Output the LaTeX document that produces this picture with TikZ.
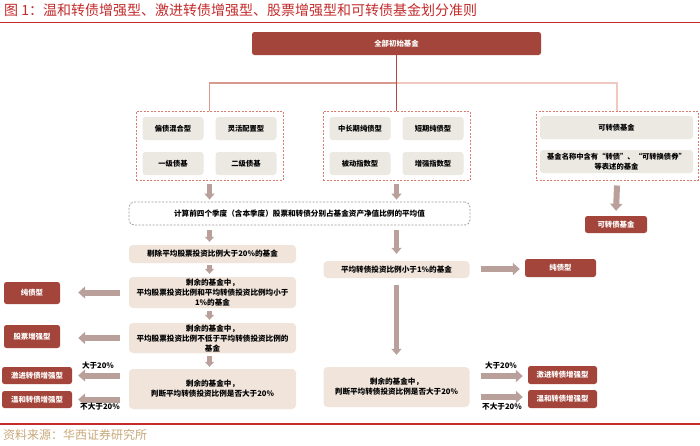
\documentclass[tikz,border=0pt]{standalone}
\usepackage{fontspec}
\setmainfont{Noto Sans CJK SC}
\usetikzlibrary{arrows.meta,calc}
\definecolor{dred}{HTML}{A3453A}
\definecolor{greyc}{HTML}{ECE9E3}
\definecolor{beige}{HTML}{F0E4DB}
\definecolor{salmon}{HTML}{DA7D70}
\definecolor{dgrey}{HTML}{A09C9A}
\definecolor{arrc}{HTML}{B9A09A}
\definecolor{titlered}{HTML}{C42B2B}
\definecolor{rulered}{HTML}{C62A2A}
\definecolor{gold}{HTML}{C8A97A}
\definecolor{linedark}{HTML}{B34A3E}
\definecolor{lineleft}{HTML}{D89A8E}
\definecolor{lineright}{HTML}{F0C8C0}
\newcommand\bxf{\fontsize{7.6}{10}\selectfont\bfseries}
\newcommand\gxf{\fontsize{7.3}{9.5}\selectfont\bfseries}
\newcommand\rxf{\fontsize{7.4}{9}\selectfont\bfseries}
\tikzset{
  redbox/.style={fill=dred, rounded corners=2.5pt, text=white, font=\rxf, inner sep=0pt, align=center},
  greybox/.style={fill=greyc, rounded corners=3pt, font=\gxf, inner sep=0pt, align=center},
  beigebox/.style={fill=beige, rounded corners=4pt, font=\bxf, inner sep=0pt, align=center},
  dashbox/.style={draw=salmon, dash pattern=on 2pt off 1.5pt, line width=1pt, inner sep=0pt},
  calcbox/.style={draw=dgrey, dash pattern=on 2pt off 1.5pt, line width=0.8pt, rounded corners=5pt, inner sep=0pt, font=\bxf},
  barrow/.style={draw=arrc, line width=6pt, -{Triangle[width=12pt,length=7pt]}},
  varrow/.style={draw=arrc, line width=5pt, -{Triangle[width=10pt,length=6pt]}},
  sarrow/.style={draw=arrc, line width=4.5pt, -{Triangle[width=9pt,length=5pt]}},
  lbl/.style={font=\bxf, inner sep=0pt},
  sz/.style 2 args={minimum width=#1, minimum height=#2}
}
\begin{document}
\begin{tikzpicture}[x=1pt,y=-1pt]
\useasboundingbox (0,0) rectangle (700,445);
\fill[white] (0,0) rectangle (700,445);

% title
\node[anchor=west, text=titlered, font=\fontsize{14}{14}\selectfont, inner sep=0pt] (title) at (4,10.5)
  {图 1：温和转债增强型、激进转债增强型、股票增强型和可转债基金划分准则};
\draw[rulered, line width=1pt] (0,22) -- (700,22);

% top
\node[redbox, sz={289pt}{23pt}] (top) at (396.5,43.5) {全部初始基金};

% dashed group boxes
\node[dashbox, sz={147pt}{69pt}] (L) at (209.5,145.5) {};
\node[dashbox, sz={147pt}{69pt}] (M) at (396.5,145.5) {};
\node[dashbox, sz={162pt}{69pt}] (R) at (617,145.5) {};

\node[greybox, sz={61pt}{23pt}] (g1) at (173,128.5) {偏债混合型};
\node[greybox, sz={61pt}{23pt}] (g2) at (246,128.5) {灵活配置型};
\node[greybox, sz={61pt}{23pt}] (g3) at (173,163.5) {一级债基};
\node[greybox, sz={61pt}{23pt}] (g4) at (246,163.5) {二级债基};

\node[greybox, sz={61pt}{23pt}] (g5) at (360,128.5) {中长期纯债型};
\node[greybox, sz={61pt}{23pt}] (g6) at (433,128.5) {短期纯债型};
\node[greybox, sz={61pt}{23pt}] (g7) at (360,163.5) {被动指数型};
\node[greybox, sz={61pt}{23pt}] (g8) at (433,163.5) {增强指数型};

\node[greybox, sz={153pt}{23pt}] (g9) at (616.5,127.5) {可转债基金};
\node[greybox, sz={153pt}{23pt}] (g10) at (616.5,161.5) {基金名称中含有“转债”、“可转换债券”\\等表述的基金};

% connectors from top
\coordinate (hub) at (396.5,83);
\draw[lineright, line width=1.4pt] (hub) -| (R.north);
\draw[lineleft, line width=1.6pt] (hub) -| (L.north);
\draw[linedark, line width=1pt] (top.south) -- (M.north);

% calc box
\node[calcbox, sz={341pt}{23pt}] (calc) at (299.5,213.5) {计算前四个季度（含本季度）股票和转债分别占基金资产净值比例的平均值};
\draw[varrow] ($(L.south)+(0,3)$) -- ($(L.south |- calc.north)+(0,-2)$);
\draw[varrow] ($(M.south)+(0,3)$) -- ($(M.south |- calc.north)+(0,-2)$);

% convertible fund
\node[redbox, sz={62pt}{17pt}] (kz) at (616,224.5) {可转债基金};
\draw[barrow] ($(R.south)+(0,5)$) -- ($(kz.north)+(0,-5)$);

% left column
\node[beigebox, sz={167pt}{18pt}] (B1) at (212.5,254) {剔除平均股票投资比例大于20\%的基金};
\node[beigebox, sz={167pt}{31pt}] (B2) at (212.5,292.5) {剩余的基金中，\\平均股票投资比例和平均转债投资比例均小于\\1\%的基金};
\node[beigebox, sz={167pt}{30pt}] (B3) at (212.5,338) {剩余的基金中，\\平均股票投资比例不低于平均转债投资比例的\\基金};
\node[beigebox, sz={167pt}{40pt}] (B4) at (212.5,389) {剩余的基金中，\\判断平均转债投资比例是否大于20\%};

\draw[sarrow] ($(L.south |- calc.south)+(0,5)$) -- ($(L.south |- B1.north)+(0,-3)$);
\draw[sarrow] ($(L.south |- B1.south)+(0,2)$) -- ($(L.south |- B2.north)+(0,-3)$);
\draw[sarrow] ($(L.south |- B2.south)+(0,3)$) -- ($(L.south |- B3.north)+(0,-3)$);
\draw[sarrow] ($(L.south |- B3.south)+(0,3)$) -- ($(L.south |- B4.north)+(0,-2)$);

\node[redbox, sz={56pt}{22pt}] (pure1) at (32,293) {纯债型};
\node[redbox, sz={56pt}{23pt}] (stock) at (32,336.5) {股票增强型};
\node[redbox, sz={70pt}{17pt}] (aggr1) at (37,375.5) {激进转债增强型};
\node[redbox, sz={70pt}{17pt}] (mild1) at (37,399.5) {温和转债增强型};

\draw[barrow] ($(B2.west)+(-9,0)$) -- ($(pure1.east |- B2.west)+(18,0)$);
\draw[barrow] ($(B3.west)+(-9,0)$) -- ($(stock.east |- B3.west)+(18,0)$);
\draw[barrow] ($(B4.west |- aggr1.east)+(-9,0)$) -- ($(aggr1.east)+(6,0)$);
\draw[barrow] ($(B4.west |- mild1.east)+(-9,0)$) -- ($(mild1.east)+(6,0)$);
\node[lbl] (l1) at (98,366) {大于20\%};
\node[lbl] (l2) at (100,406.5) {不大于20\%};

% right column
\node[beigebox, sz={146pt}{17pt}] (R1) at (396.5,269.5) {平均转债投资比例小于1\%的基金};
\node[beigebox, sz={146pt}{40pt}] (R4) at (396.5,387) {剩余的基金中，\\判断平均转债投资比例是否大于20\%};
\node[redbox, sz={71pt}{18pt}] (pure2) at (560.5,268) {纯债型};
\node[redbox, sz={69pt}{18pt}] (aggr2) at (562.5,375) {激进转债增强型};
\node[redbox, sz={69pt}{18pt}] (mild2) at (562.5,399) {温和转债增强型};

\draw[varrow] ($(R1.north |- calc.south)+(0,5)$) -- ($(R1.north)+(0,-7)$);
\draw[varrow] ($(R1.south)+(0,7)$) -- ($(R4.north)+(0,-12)$);
\draw[barrow] ($(R1.east |- pure2.west)+(11,1)$) -- ($(pure2.west)+(-5,1)$);
\draw[barrow] ($(R4.east |- aggr2.west)+(11,1)$) -- ($(aggr2.west)+(-5,1)$);
\draw[barrow] ($(R4.east |- mild2.west)+(11,-2)$) -- ($(mild2.west)+(-5,-2)$);
\node[lbl] (l3) at (501,366) {大于20\%};
\node[lbl] (l4) at (502,406.5) {不大于20\%};

% source
\draw[rulered, line width=2pt] (0,424) -- (700,424);
\node[anchor=west, text=gold, font=\fontsize{12}{12}\selectfont, inner sep=0pt] (src) at (3,434.5) {资料来源：华西证券研究所};
\end{tikzpicture}
\end{document}
